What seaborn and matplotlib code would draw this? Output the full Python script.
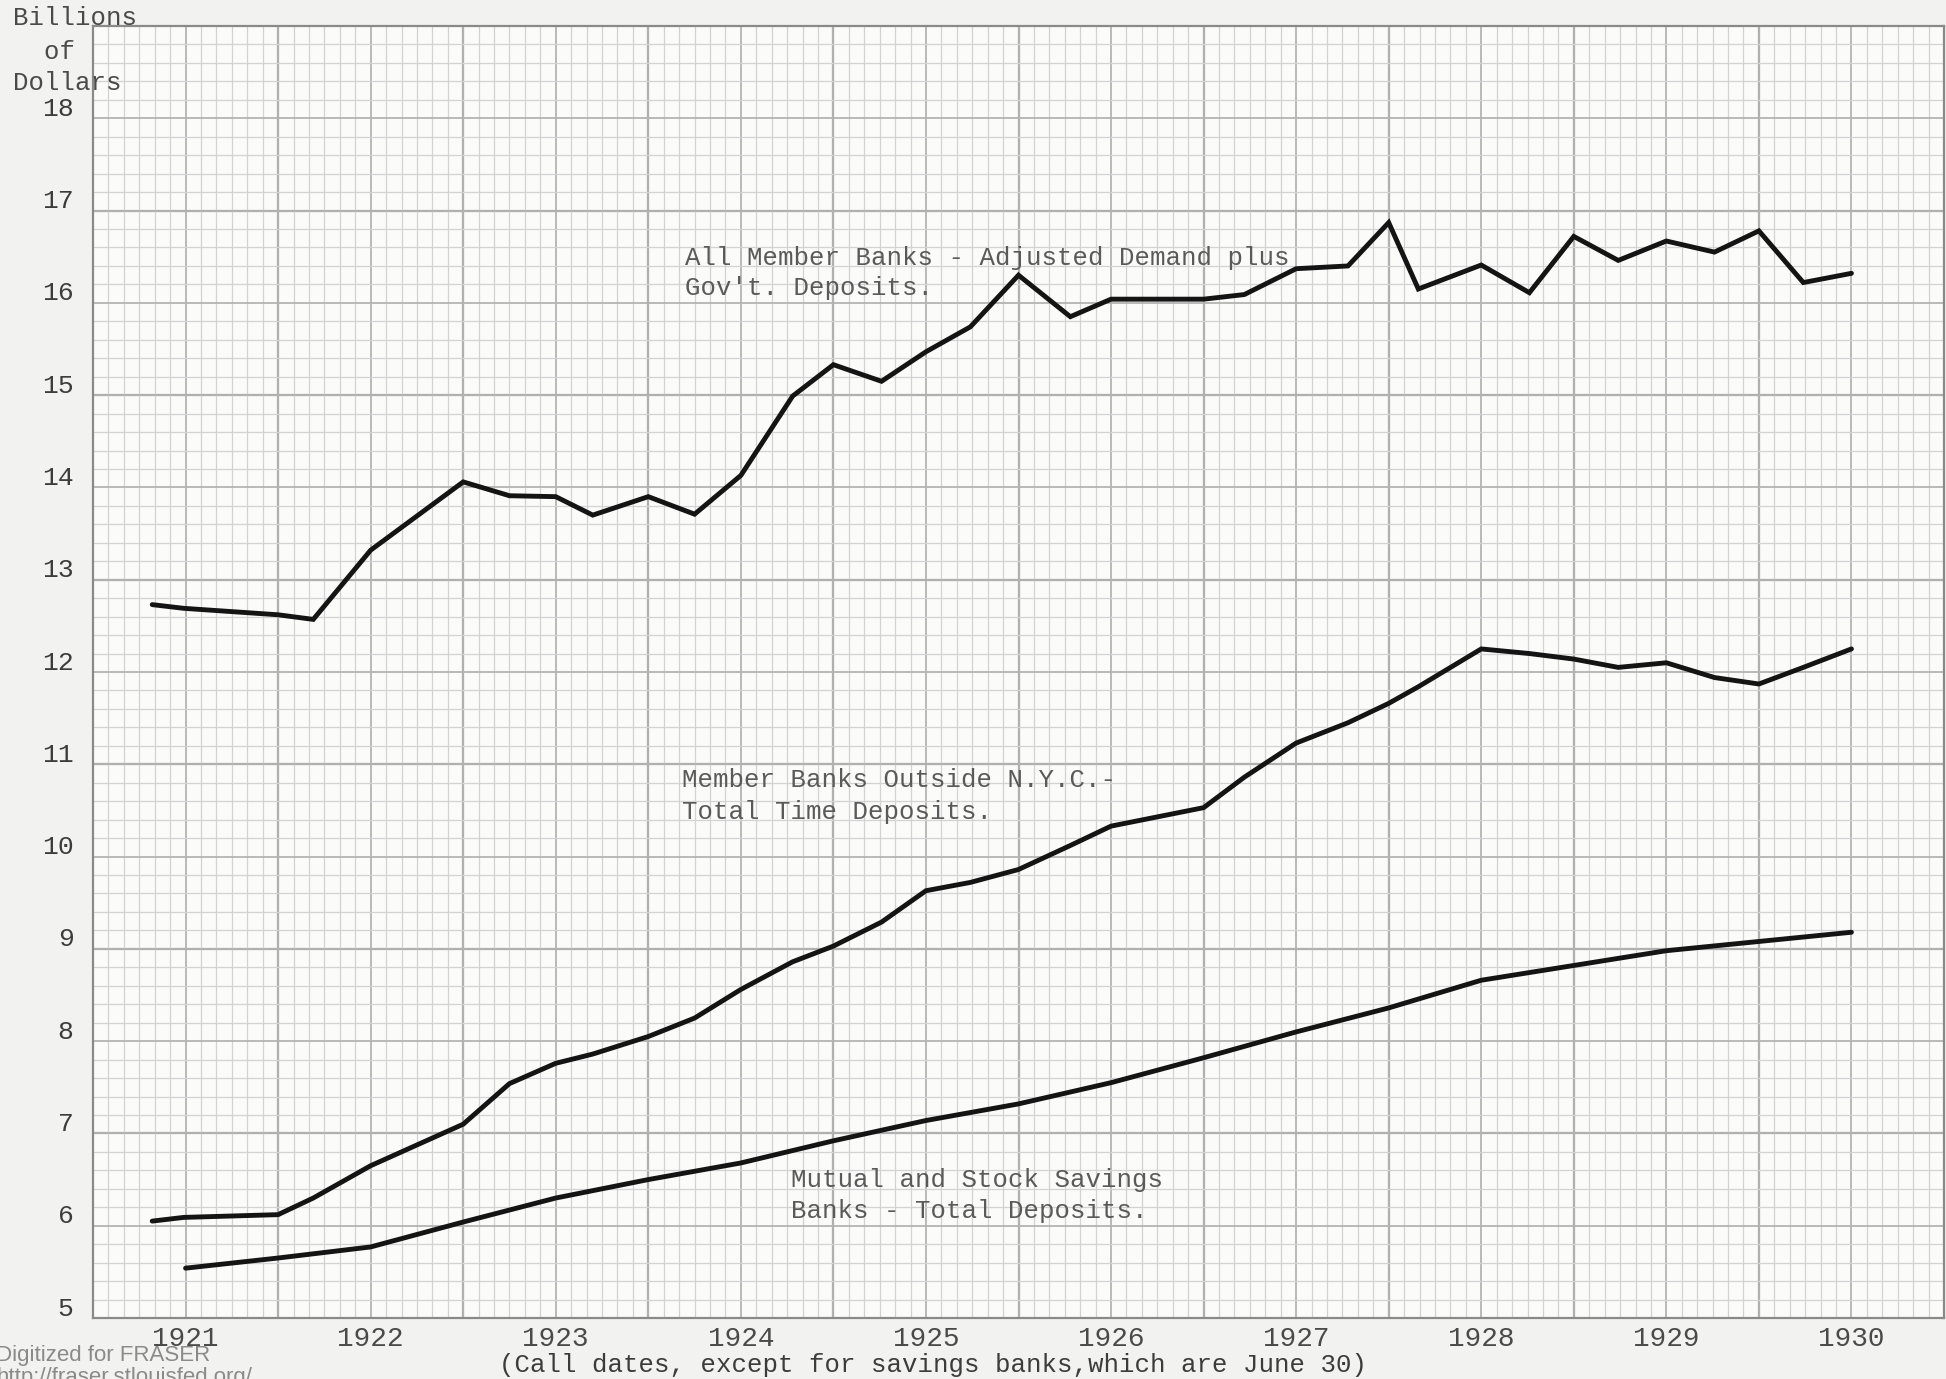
import numpy as np
import pandas as pd
import matplotlib
matplotlib.use("Agg")
import matplotlib.pyplot as plt
import matplotlib.transforms as mtransforms
from matplotlib.ticker import MultipleLocator
import seaborn as sns

# call dates (decimal years)
call_dates = [1921.32, 1921.49, 1922.0, 1922.19, 1922.5, 1923.0, 1923.25, 1923.5, 1923.7,
              1924.0, 1924.25, 1924.5, 1924.78, 1925.0, 1925.26, 1925.5, 1925.74,
              1926.0, 1926.28, 1926.5, 1927.0, 1927.22, 1927.5, 1927.78, 1928.0,
              1928.16, 1928.5, 1928.76, 1929.0, 1929.24, 1929.5, 1929.76, 1930.0,
              1930.24, 1930.5]

# All member banks - adjusted demand plus gov't deposits (billions)
demand_gov = [12.73, 12.69, 12.62, 12.57, 13.32, 14.06, 13.91, 13.90, 13.70,
              13.90, 13.71, 14.13, 14.99, 15.33, 15.15, 15.47, 15.74,
              16.30, 15.85, 16.04, 16.04, 16.09, 16.37, 16.40, 16.87,
              16.15, 16.41, 16.11, 16.72, 16.46, 16.67, 16.55, 16.78,
              16.22, 16.32]

# Member banks outside N.Y.C. - total time deposits
time_outside_nyc = [6.05, 6.09, 6.12, 6.30, 6.65, 7.10, 7.54, 7.76, 7.86,
                    8.05, 8.25, 8.56, 8.86, 9.03, 9.29, 9.63, 9.72,
                    9.86, 10.12, 10.33, 10.53, 10.86, 11.23, 11.45, 11.66,
                    11.84, 12.25, 12.20, 12.14, 12.05, 12.10, 11.94, 11.87,
                    12.05, 12.25]

# Mutual and stock savings banks - total deposits
savings_dates = [1921.5, 1922.0, 1922.5, 1923.0, 1923.5, 1924.0, 1924.5, 1925.0, 1925.5,
                 1926.0, 1926.5, 1927.0, 1927.5, 1928.0, 1928.5, 1929.0, 1929.5,
                 1930.0, 1930.5]
savings_deposits = [5.54, 5.65, 5.77, 6.04, 6.30, 6.50, 6.68, 6.92, 7.14,
                    7.32, 7.55, 7.82, 8.10, 8.36, 8.66, 8.82, 8.98,
                    9.08, 9.18]

years = [1921, 1922, 1923, 1924, 1925, 1926, 1927, 1928, 1929, 1930]
y_labels = [5, 6, 7, 8, 9, 10, 11, 12, 13, 14, 15, 16, 17, 18]

sns.set_style("white")
plt.rcParams['font.family'] = ['Liberation Mono', 'DejaVu Sans Mono']

fig = plt.figure(figsize=(19.46, 13.79), dpi=100, facecolor='#f2f2f1')
ax = fig.add_axes([93 / 1946, 1 - 1318 / 1379, (1944 - 93) / 1946, (1318 - 26) / 1379])
ax.set_facecolor('#fbfbfa')

ink = '#141414'
for xs, ys in [(call_dates, demand_gov), (call_dates, time_outside_nyc),
               (savings_dates, savings_deposits)]:
    sns.lineplot(x=xs, y=ys, ax=ax, color=ink, linewidth=3.5, solid_joinstyle='miter')

ax.set_xlim(1921, 1931)
ax.set_ylim(5, 19)

# graph paper grid
xmaj = np.arange(1921, 1931.01, 0.5)
ax.set_xticks(xmaj)
ax.set_xticklabels([str(int(v)) if (v % 1) == 0.5 else '' for v in xmaj])
ax.xaxis.set_minor_locator(MultipleLocator(1 / 12))
ax.set_yticks(list(range(5, 20)))
ax.set_yticklabels([str(v) for v in y_labels] + [''])
ax.yaxis.set_minor_locator(MultipleLocator(0.2))
ax.grid(which='minor', color='#d3d3d3', linewidth=0.9)
ax.grid(which='major', color='#b3b3b3', linewidth=1.3)
for yr in years[1:]:
    ax.axvline(yr, color='#999999', linewidth=1.6, zorder=0.5)
for v in range(7, 19, 2):
    ax.axhline(v, color='#999999', linewidth=1.6, zorder=0.5)
ax.set_axisbelow(True)
for s in ax.spines.values():
    s.set_color('#8a8a8a')
    s.set_linewidth(1.6)

ax.tick_params(axis='both', which='both', length=0)
ax.tick_params(axis='y', pad=14, labelsize=19, labelcolor='#3c3c3c')
ax.tick_params(axis='x', pad=6, labelsize=20, labelcolor='#4a4a4a')
shift = mtransforms.ScaledTranslation(0, 0.12, fig.dpi_scale_trans)
for lab in ax.get_yticklabels():
    lab.set_transform(lab.get_transform() + shift)
ax.set_xlabel('')
ax.set_ylabel('')

# series labels typed on the sheet
txt = dict(fontsize=18.5, color='#5a5a5a', va='center', ha='left')
ax.text(1924.20, 16.49, 'All Member Banks - Adjusted Demand plus', **txt)
ax.text(1924.20, 16.16, "Gov't. Deposits.", **txt)
ax.text(1924.18, 10.83, 'Member Banks Outside N.Y.C.-', **txt)
ax.text(1924.18, 10.48, 'Total Time Deposits.', **txt)
ax.text(1924.77, 6.50, 'Mutual and Stock Savings', **txt)
ax.text(1924.77, 6.16, 'Banks - Total Deposits.', **txt)

fig.text(13 / 1946, 1 - 18 / 1379, 'Billions', fontsize=18.5, color='#4a4a4a', va='center')
fig.text(13 / 1946, 1 - 52 / 1379, '  of', fontsize=18.5, color='#4a4a4a', va='center')
fig.text(13 / 1946, 1 - 83 / 1379, 'Dollars', fontsize=18.5, color='#4a4a4a', va='center')

fig.text(933 / 1946, 1 - 1365 / 1379,
         '(Call dates, except for savings banks,which are June 30)',
         fontsize=18.5, color='#3c3c3c', ha='center', va='center')

# scan watermark, cut at the lower edge as in the source
fig.text(-0.002, 1 - 1355 / 1379, 'Digitized for FRASER', fontsize=16,
         color='#8a8a8a', va='center', family=['Liberation Sans', 'DejaVu Sans'])
fig.text(-0.002, 1 - 1378 / 1379, 'http://fraser.stlouisfed.org/', fontsize=16,
         color='#8a8a8a', va='center', family=['Liberation Sans', 'DejaVu Sans'])

fig.savefig('out.png', dpi=100, facecolor=fig.get_facecolor())
